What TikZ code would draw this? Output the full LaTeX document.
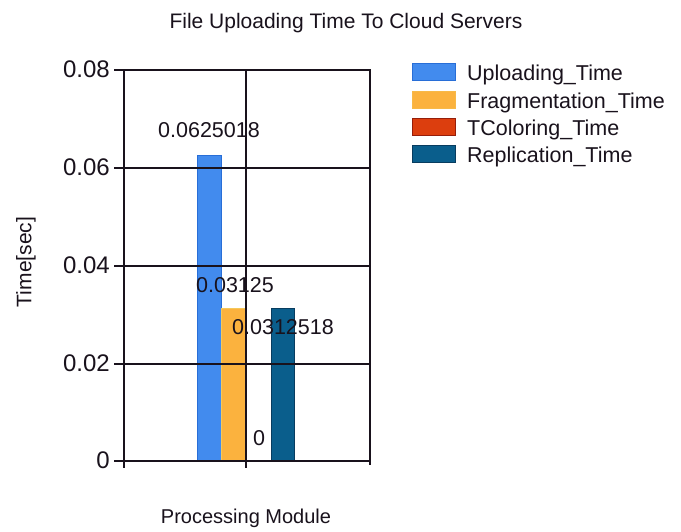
\documentclass[tikz,border=0pt]{standalone}
\usepackage{fontspec}
\setmainfont{Liberation Sans}
\definecolor{upl}{RGB}{66,139,238}
\definecolor{uplB}{RGB}{40,110,215}
\definecolor{frg}{RGB}{251,178,62}
\definecolor{frgB}{RGB}{245,200,90}
\definecolor{tcol}{RGB}{220,62,14}
\definecolor{tcolB}{RGB}{150,30,10}
\definecolor{rep}{RGB}{10,94,140}
\definecolor{repB}{RGB}{8,60,95}
\definecolor{ink}{RGB}{25,18,28}
\tikzset{
  gridline/.style={draw=ink, line width=2.2pt},
  bar/.style={line width=1pt},
  ticklbl/.style={anchor=east, inner sep=0pt, text=ink, font=\fontsize{24}{28}\selectfont},
  vallbl/.style={inner sep=0pt, text=ink, font=\fontsize{21.5}{25}\selectfont},
  leglbl/.style={anchor=base west, inner sep=0pt, text=ink, font=\fontsize{21.5}{26}\selectfont},
  swatch/.style={line width=1pt},
}
\begin{document}
\begin{tikzpicture}[x=1pt,y=-1pt]
\useasboundingbox (0,0) rectangle (681,531);
\fill[white] (0,0) rectangle (681,531);

% title
\node[anchor=base, inner sep=0pt, text=ink, font=\fontsize{21}{25}\selectfont] (title) at (346,28) {File Uploading Time To Cloud Servers};

% bars
\draw[bar, fill=upl, draw=uplB] (197,461) rectangle (221,155);
\draw[bar, fill=frg, draw=frgB] (221.5,461) rectangle (245.5,308);
\draw[bar, fill=rep, draw=repB] (271,461) rectangle (294,308);

% plot frame and grid
\foreach \yy in {70,168,266,364,461} {
  \draw[gridline] (114,\yy) -- (370,\yy);
}
\draw[gridline] (124,69) -- (124,468);
\draw[gridline] (246,69) -- (246,468);
\draw[gridline] (370,69) -- (370,465);

% y tick labels
\node[ticklbl] (t8) at (110,69) {0.08};
\node[ticklbl] (t6) at (110,167) {0.06};
\node[ticklbl] (t4) at (110,265) {0.04};
\node[ticklbl] (t2) at (110,363) {0.02};
\node[ticklbl] (t0) at (110,460) {0};

% value labels
\node[vallbl] (v1) at (209,130) {0.0625018};
\node[vallbl] (v2) at (235,285) {0.03125};
\node[vallbl] (v4) at (283,327) {0.0312518};
\node[vallbl] (v3) at (259,438) {0};

% axis titles
\node[anchor=base, inner sep=0pt, text=ink, font=\fontsize{20}{24}\selectfont] (xt) at (246,523) {Processing Module};
\node[rotate=90, inner sep=0pt, text=ink, font=\fontsize{21}{25}\selectfont] (yt) at (26,262) {Time[sec]};

% legend
\draw[swatch, fill=upl, draw=uplB] (412,63) rectangle (455,80);
\draw[swatch, fill=frg, draw=frgB!80!orange] (412,91) rectangle (455,108);
\draw[swatch, fill=tcol, draw=tcolB] (412,118) rectangle (455,135);
\draw[swatch, fill=rep, draw=repB] (412,145) rectangle (455,162);
\node[leglbl] (l1) at (467,80) {Uploading\_Time};
\node[leglbl] (l2) at (467,108) {Fragmentation\_Time};
\node[leglbl] (l3) at (467,135) {TColoring\_Time};
\node[leglbl] (l4) at (467,162) {Replication\_Time};
\end{tikzpicture}
\end{document}
